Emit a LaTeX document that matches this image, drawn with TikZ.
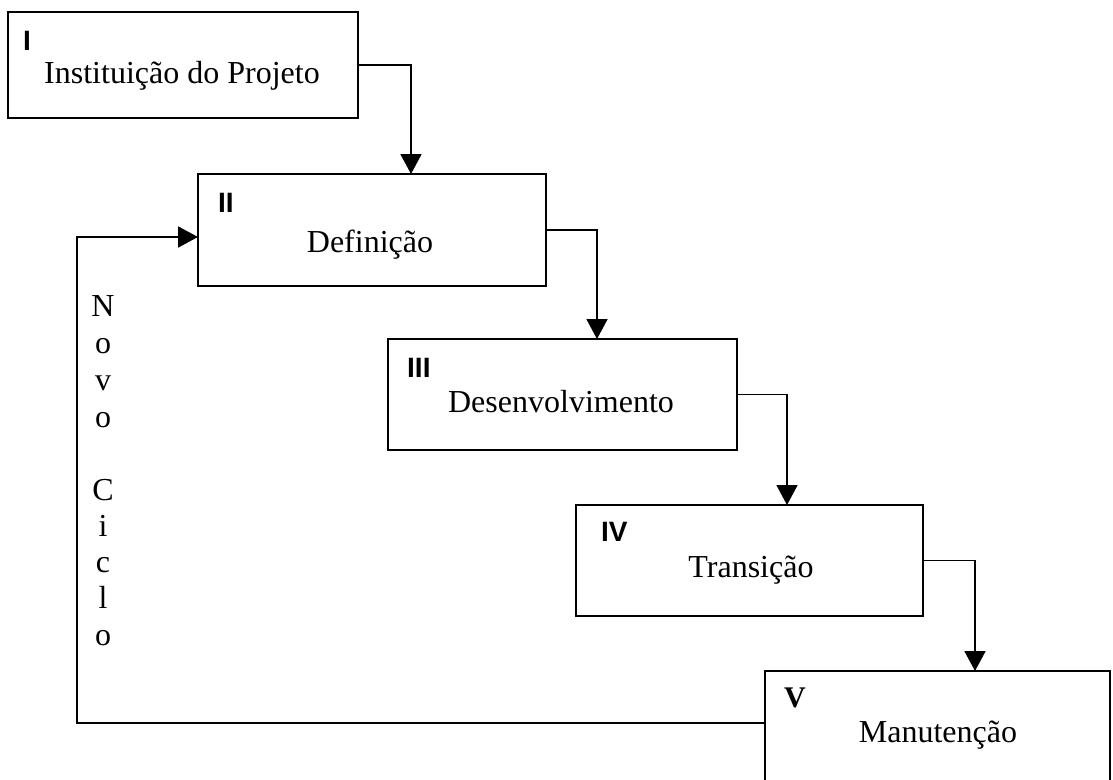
\documentclass[tikz,border=0pt]{standalone}
\usepackage{fontspec}
\setmainfont{Liberation Serif}
\newfontfamily\labsans{Liberation Sans}
\usetikzlibrary{arrows.meta,calc}
\begin{document}
\begin{tikzpicture}[x=1pt,y=-1pt,
  box/.style={draw, line width=2.6pt, inner sep=0pt, outer sep=0pt},
  txt/.style={inner sep=0pt, font=\fontsize{32}{36}\selectfont},
  lab/.style={inner sep=0pt, font=\labsans\bfseries\fontsize{28}{32}\selectfont},
  labserif/.style={inner sep=0pt, font=\bfseries\fontsize{30}{34}\selectfont},
  conn/.style={draw, line width=1.8pt, -{Triangle[length=20pt,width=21pt]}},
  feed/.style={draw, line width=1.8pt}]
\useasboundingbox (0,0) rectangle (1113,779);
\fill[white] (0,0) rectangle (1113,779);
% boxes
\node[box, minimum width=350pt, minimum height=106pt] (b1) at (183,65) {};
\node[box, minimum width=348pt, minimum height=112pt] (b2) at (372,230) {};
\node[box, minimum width=349pt, minimum height=111pt] (b3) at (562.5,394.5) {};
\node[box, minimum width=347pt, minimum height=111pt] (b4) at (749.5,560.5) {};
\node[box, minimum width=345pt, minimum height=130pt] (b5) at (937.5,736) {};
% main texts
\node[txt, anchor=base] (t1) at (182,83) {Instituição do Projeto};
\node[txt, anchor=base] (t2) at (370,252) {Definição};
\node[txt, anchor=base] (t3) at (561,412) {Desenvolvimento};
\node[txt, anchor=base] (t4) at (751,577) {Transição};
\node[txt, anchor=base] (t5) at (938,742) {Manutenção};
% phase numbers
\node[lab, anchor=base west] (l1) at (23,50) {I};
\node[lab, anchor=base west] (l2) at (218,212) {II};
\node[lab, anchor=base west] (l3) at (407,377) {III};
\node[lab, anchor=base west] (l4) at (601,541) {IV};
\node[labserif, anchor=base west] (l5) at (784,707) {V};
% connectors
\draw[conn] (b1.east) -| ($(b2.north west)+(213,0)$);
\draw[conn] (b2.east) -| ($(b3.north west)+(209,0)$);
\draw[conn] (b3.east) -| ($(b4.north west)+(211,0)$);
\draw[conn] (b4.east) -| ($(b5.north west)+(210,0)$);
% feedback loop
\coordinate (fbout) at ($(b5.north west)+(0,52)$);
\coordinate (fbin) at ($(b2.north west)+(0,63)$);
\coordinate (fbc1) at (77,723);
\coordinate (fbc2) at (77,237);
\draw[feed] (fbout) -- (fbc1) -- (fbc2) -- ($(fbin)+(-10,0)$);
\draw[conn] (fbc2) -- (fbin);
% vertical label
\foreach \ch/\yy [count=\k] in {N/316,o/353,v/390,o/427,C/500,i/536,c/572,l/608,o/645}
  \node[txt, anchor=base] (nc\k) at (103,\yy) {\ch};
\end{tikzpicture}
\end{document}
